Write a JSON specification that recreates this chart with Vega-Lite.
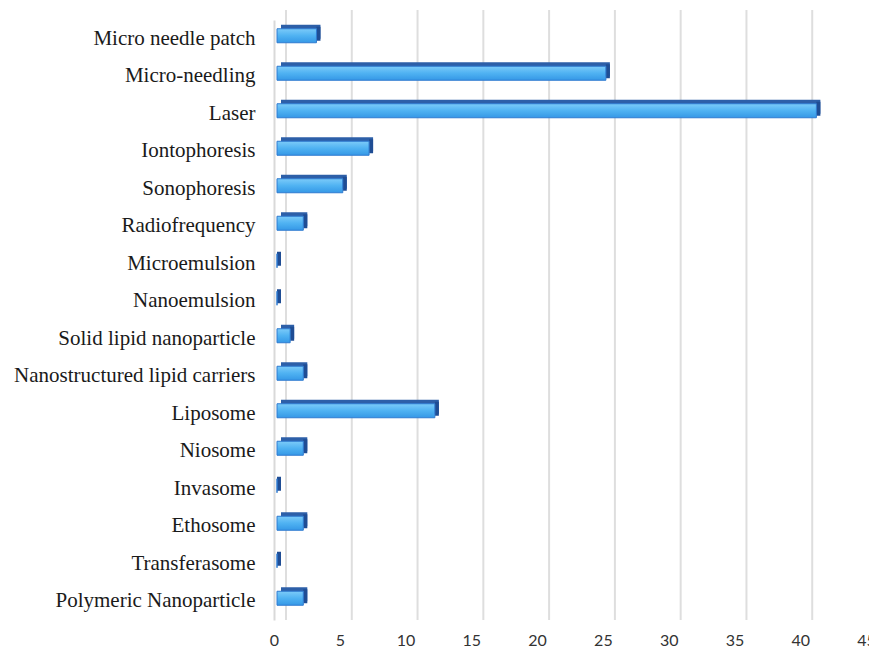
{
  "$schema": "https://vega.github.io/schema/vega-lite/v6.json",
  "width": 592,
  "height": 600,
  "autosize": {"type": "none"},
  "padding": {"left": 274, "top": 20, "right": 3, "bottom": 32},
  "background": "white",
  "config": {"view": {"stroke": null}},
  "datasets": {
    "bars": [
      {"name": "Micro needle patch", "value": 3},
      {"name": "Micro-needling", "value": 25},
      {"name": "Laser", "value": 41},
      {"name": "Iontophoresis", "value": 7},
      {"name": "Sonophoresis", "value": 5},
      {"name": "Radiofrequency", "value": 2},
      {"name": "Microemulsion", "value": 0},
      {"name": "Nanoemulsion", "value": 0},
      {"name": "Solid lipid nanoparticle", "value": 1},
      {"name": "Nanostructured lipid carriers", "value": 2},
      {"name": "Liposome", "value": 12},
      {"name": "Niosome", "value": 2},
      {"name": "Invasome", "value": 0},
      {"name": "Ethosome", "value": 2},
      {"name": "Transferasome", "value": 0},
      {"name": "Polymeric Nanoparticle", "value": 2}
    ],
    "grid": [
      {"v": 0}, {"v": 5}, {"v": 10}, {"v": 15}, {"v": 20},
      {"v": 25}, {"v": 30}, {"v": 35}, {"v": 40}, {"v": 45}
    ]
  },
  "layer": [
    {
      "data": {"name": "grid"},
      "mark": {"type": "rule", "color": "#dedede", "strokeWidth": 2, "xOffset": 12, "x2Offset": 12, "yOffset": -10, "y2Offset": -13},
      "encoding": {
        "x": {
          "field": "v", "type": "quantitative",
          "scale": {"domain": [0, 45], "nice": false, "zero": true},
          "axis": {
            "title": null, "grid": false, "ticks": false, "domain": false,
            "values": [0, 5, 10, 15, 20, 25, 30, 35, 40, 45],
            "labelFont": "Lato", "labelFontSize": 16, "labelColor": "#333333",
            "labelPadding": 12, "labelFlush": false, "labelOverlap": false
          }
        }
      }
    },
    {
      "data": {"name": "bars"},
      "mark": {"type": "bar", "height": 14, "xOffset": 7, "x2Offset": 7, "yOffset": -7, "fill": "#2d5fa8"},
      "encoding": {
        "y": {
          "field": "name", "type": "nominal", "sort": null,
          "scale": {"paddingInner": 0, "paddingOuter": 0},
          "axis": {
            "title": null, "ticks": false, "grid": false,
            "domain": true, "domainColor": "#d9d9d9", "domainWidth": 2,
            "labelFont": "Liberation Serif", "labelFontSize": 21, "labelColor": "#1a1a1a",
            "labelPadding": 19, "labelLimit": 400
          }
        },
        "x": {"field": "value", "type": "quantitative"}
      }
    },
    {
      "data": {"name": "bars"},
      "mark": {"type": "tick", "orient": "vertical", "thickness": 4, "size": 14, "xOffset": 5, "yOffset": -5, "color": "#1f4d94", "opacity": 1},
      "encoding": {
        "y": {"field": "name", "type": "nominal", "sort": null},
        "x": {"field": "value", "type": "quantitative"}
      }
    },
    {
      "data": {"name": "bars"},
      "mark": {
        "type": "bar", "height": 14, "yOffset": -3, "xOffset": 3, "x2Offset": 3,
        "fill": {
          "gradient": "linear", "x1": 0, "y1": 0, "x2": 0, "y2": 1,
          "stops": [
            {"offset": 0, "color": "#7ccbf9"},
            {"offset": 0.5, "color": "#4fb2f2"},
            {"offset": 1, "color": "#3598e6"}
          ]
        },
        "stroke": "#2f7bd0", "strokeWidth": 1
      },
      "encoding": {
        "y": {"field": "name", "type": "nominal", "sort": null},
        "x": {"field": "value", "type": "quantitative"}
      }
    }
  ]
}
